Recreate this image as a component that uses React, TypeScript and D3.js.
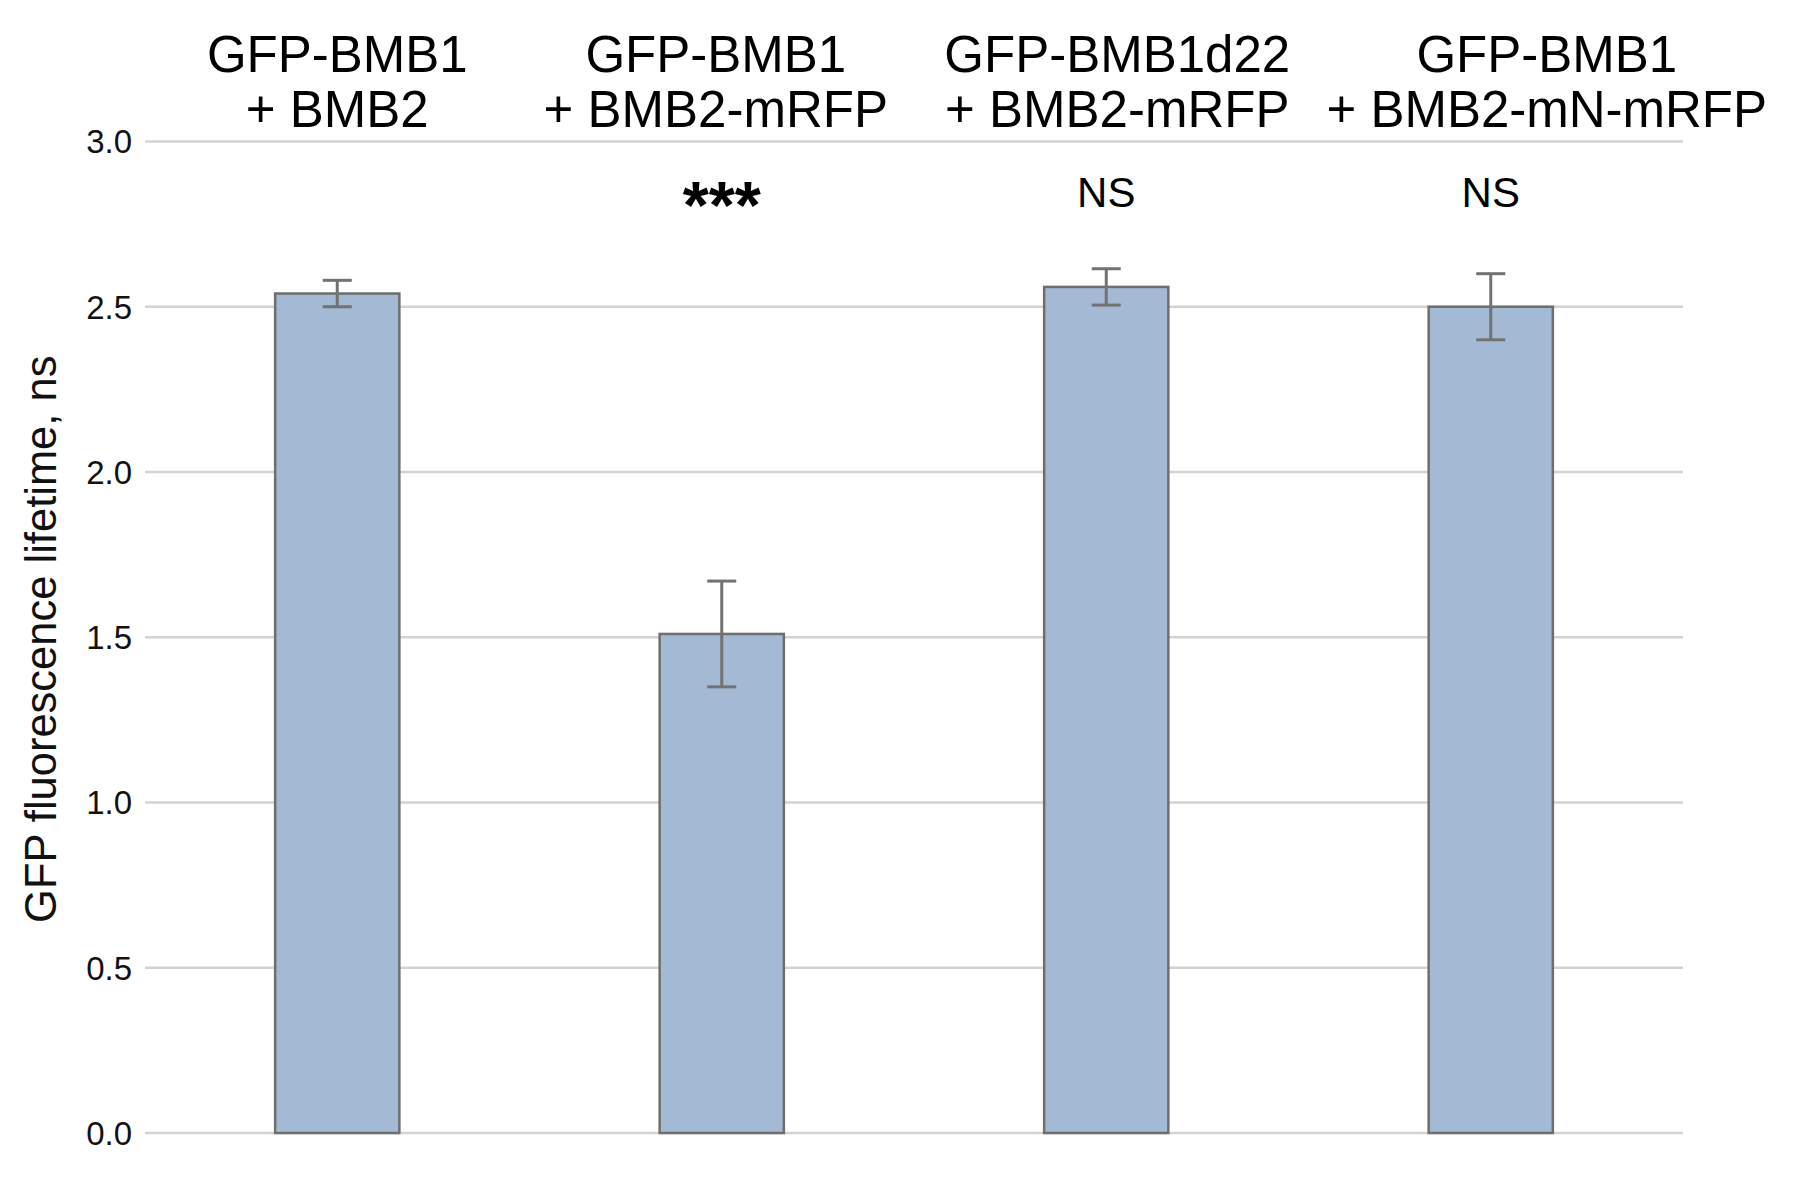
import React from "react";
import * as d3 from "d3";

const categoriesLine1 = ["GFP-BMB1", "GFP-BMB1", "GFP-BMB1d22", "GFP-BMB1"];
const categoriesLine2 = ["+ BMB2", "+ BMB2-mRFP", "+ BMB2-mRFP", "+ BMB2-mN-mRFP"];
const means = [2.54, 1.51, 2.56, 2.5];
const errors = [0.04, 0.16, 0.055, 0.1];
const significance = ["", "***", "NS", "NS"];
const yTicks = [0, 0.5, 1.0, 1.5, 2.0, 2.5, 3.0];

// layout: horizontal shift of each category label relative to its bar (px)
const labelShift = [0, -6, 11, 56];

const W = 1804;
const H = 1177;
const left = 145;
const right = 1683;
const top = 141.5;
const bottom = 1133;
const font = "'Liberation Sans', Arial, sans-serif";

export default function App() {
  const idx = means.map((_, i) => i);
  const x = d3
    .scaleBand<number>()
    .domain(idx)
    .range([left, right])
    .paddingInner(0.677)
    .paddingOuter(0.3385);
  const y = d3.scaleLinear().domain([0, 3]).range([bottom, top]);
  const bw = x.bandwidth();
  const cap = 29;

  return (
    <svg
      width={W}
      height={H}
      style={{ position: "absolute", left: 0, top: 0, background: "#fff" }}
      fontFamily={font}
    >
      <rect x={0} y={0} width={W} height={H} fill="#fff" />
      {yTicks.map((t) => (
        <g key={t}>
          <line
            x1={left}
            x2={right}
            y1={y(t)}
            y2={y(t)}
            stroke="#d3d3d3"
            strokeWidth={2.5}
          />
          <text
            x={132}
            y={y(t)}
            dy="0.36em"
            textAnchor="end"
            fontSize={33}
            fill="#111"
          >
            {d3.format(".1f")(t)}
          </text>
        </g>
      ))}
      <text
        transform={`translate(56, ${(top + bottom) / 2 + 2}) rotate(-90)`}
        textAnchor="middle"
        fontSize={43.5}
        fill="#111"
      >
        GFP fluorescence lifetime, ns
      </text>
      {idx.map((i) => {
        const cx = (x(i) as number) + bw / 2;
        const lx = cx + labelShift[i];
        return (
          <g key={i}>
            <text x={lx} y={72} textAnchor="middle" fontSize={51} fill="#000">
              {categoriesLine1[i]}
            </text>
            <text x={lx} y={127} textAnchor="middle" fontSize={51} fill="#000">
              {categoriesLine2[i]}
            </text>
            <rect
              x={x(i) as number}
              y={y(means[i])}
              width={bw}
              height={y(0) - y(means[i])}
              fill="#a4b9d4"
              stroke="#6e6e6e"
              strokeWidth={2.5}
            />
            <line
              x1={cx}
              x2={cx}
              y1={y(means[i] + errors[i])}
              y2={y(means[i] - errors[i])}
              stroke="#727272"
              strokeWidth={3}
            />
            <line
              x1={cx - cap / 2}
              x2={cx + cap / 2}
              y1={y(means[i] + errors[i])}
              y2={y(means[i] + errors[i])}
              stroke="#727272"
              strokeWidth={3}
            />
            <line
              x1={cx - cap / 2}
              x2={cx + cap / 2}
              y1={y(means[i] - errors[i])}
              y2={y(means[i] - errors[i])}
              stroke="#727272"
              strokeWidth={3}
            />
            {significance[i] === "***" ? (
              <text
                x={cx}
                y={228}
                textAnchor="middle"
                fontSize={67}
                fontWeight="bold"
                fill="#000"
              >
                {significance[i]}
              </text>
            ) : (
              <text x={cx} y={207} textAnchor="middle" fontSize={42} fill="#000">
                {significance[i]}
              </text>
            )}
          </g>
        );
      })}
    </svg>
  );
}
